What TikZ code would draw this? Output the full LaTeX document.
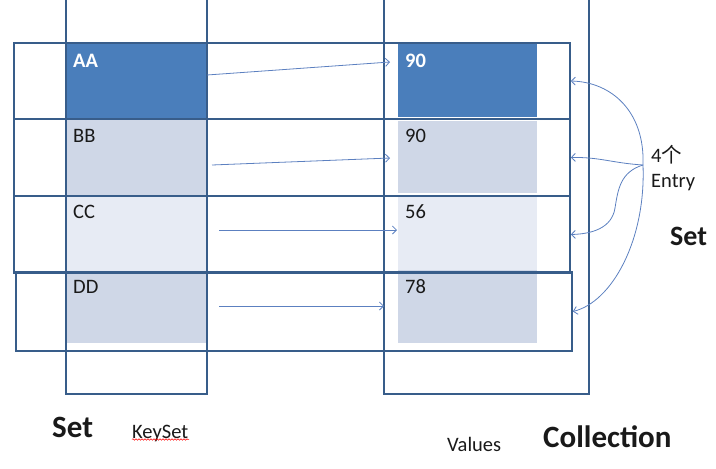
\documentclass[tikz,border=0pt]{standalone}
\usepackage{fontspec}
\setmainfont{Carlito}
\newfontfamily\cjk{Noto Sans CJK SC}
\usetikzlibrary{positioning,arrows.meta,decorations.pathmorphing}
\definecolor{boxline}{RGB}{56,93,138}
\definecolor{darkcell}{RGB}{74,126,187}
\definecolor{lightcell}{RGB}{207,215,231}
\definecolor{palecell}{RGB}{231,235,244}
\definecolor{arrowline}{RGB}{92,128,192}
\definecolor{ink}{RGB}{25,25,25}

\begin{document}
\begin{tikzpicture}
    [
      x=1pt, y=-1pt,
      >/.tip={Straight Barb[length=4pt,width=8pt]},
      my key/.style={minimum width=141pt, inner sep=0pt},
      my value/.style={minimum width=139pt, inner sep=0pt},
      my row/.style={draw=boxline, line width=1.6pt, minimum width=556pt, inner sep=0pt},
      my frame/.style={draw=boxline, line width=1.6pt},
      my text/.style={anchor=base west, inner sep=0pt, text=ink, font=\fontsize{20.5}{22}\selectfont},
      my head/.style={my text, text=white, font=\fontsize{20.5}{22}\selectfont\bfseries},
      my title/.style={anchor=base west, inner sep=0pt, text=ink, font=\fontsize{31}{33}\selectfont\bfseries},
      my link/.style={->, draw=arrowline, line width=0.8pt}
    ]
    \useasboundingbox (0,0) rectangle (716,469);
    % key cells
    \node (aa) [my key, minimum height=76pt, fill=darkcell] at (136.5,81) {};
    \node (bb) [my key, minimum height=77pt, fill=lightcell] at (136.5,157.5) {};
    \node (cc) [my key, minimum height=77pt, fill=palecell] at (136.5,234.5) {};
    \node (dd) [my key, minimum height=70pt, fill=lightcell] at (136.5,308) {};
    % value cells
    \node (va) [my value, minimum height=74pt, fill=darkcell] at (467.5,80) {};
    \node (vb) [my value, minimum height=72pt, fill=lightcell] at (467.5,157) {};
    \node (vc) [my value, minimum height=74pt, fill=palecell] at (467.5,233) {};
    \node (vd) [my value, minimum height=73pt, fill=lightcell] at (467.5,306.5) {};
    % entries
    \node (r1) [my row, minimum height=76pt] at (292,81) {};
    \node (r2) [my row, minimum height=77pt] at (292,157.5) {};
    \node (r3) [my row, minimum height=77pt] at (292,234.5) {};
    \node (r4) [my row, minimum height=79pt] at (294,311.5) {};
    % columns
    \path [my frame] (66,-2) |- (207,394) -- (207,-2);
    \path [my frame] (384,-2) |- (589,394) -- (589,-2);
    % cell texts
    \node (aat) [my head] at (73,67) {AA};
    \node (bbt) [my text] at (73,142) {BB};
    \node (cct) [my text] at (73,218) {CC};
    \node (ddt) [my text] at (73,293) {DD};
    \node (vat) [my head] at (405,67) {90};
    \node (vbt) [my text] at (405,142) {90};
    \node (vct) [my text] at (405,218) {56};
    \node (vdt) [my text] at (405,293) {78};
    % key -> value
    \coordinate (k1) at (207,75);  \coordinate (v1) at (390,62);
    \coordinate (k2) at (212,165); \coordinate (v2) at (390,158);
    \coordinate (k3) at (219,230); \coordinate (v3) at (397,230);
    \coordinate (k4) at (219,306); \coordinate (v4) at (384,306);
    \path [my link] (k1) -- (v1);
    \path [my link] (k2) -- (v2);
    \path [my link] (k3) -- (v3);
    \path [my link] (k4) -- (v4);
    % entries label
    \node (count) [my text] at (651,162) {4{\cjk 个}};
    \node (entry) [my text] at (651,187) {Entry};
    \coordinate (hub) at (643,165);
    \path [my link] (hub) .. controls (645,112) and (612,82) .. (r1.east);
    \path [my link] (hub) .. controls (612,163) and (600,157) .. (r2.east);
    \path [my link] (hub) .. controls (620,172) and (618,190) .. (615,208) .. controls (612,228) and (592,234) .. (r3.east);
    \path [my link] (hub) .. controls (646,240) and (612,302) .. (r4.east);
    % captions
    \node (setr) [my title, font=\fontsize{28}{30}\selectfont\bfseries] at (670,245) {Set};
    \node (setl) [my title] at (52,437) {Set};
    \node (keyset) [my text] at (132,438) {KeySet};
    \draw [red, line width=0.5pt, decorate, decoration={snake, amplitude=0.8pt, segment length=3pt}] (keyset.south west) ++(0,-2) -- ++(57,0);
    \node (values) [my text] at (447,451) {Values};
    \node (coll) [my title] at (543,447) {Collection};
\end{tikzpicture}
\end{document}
